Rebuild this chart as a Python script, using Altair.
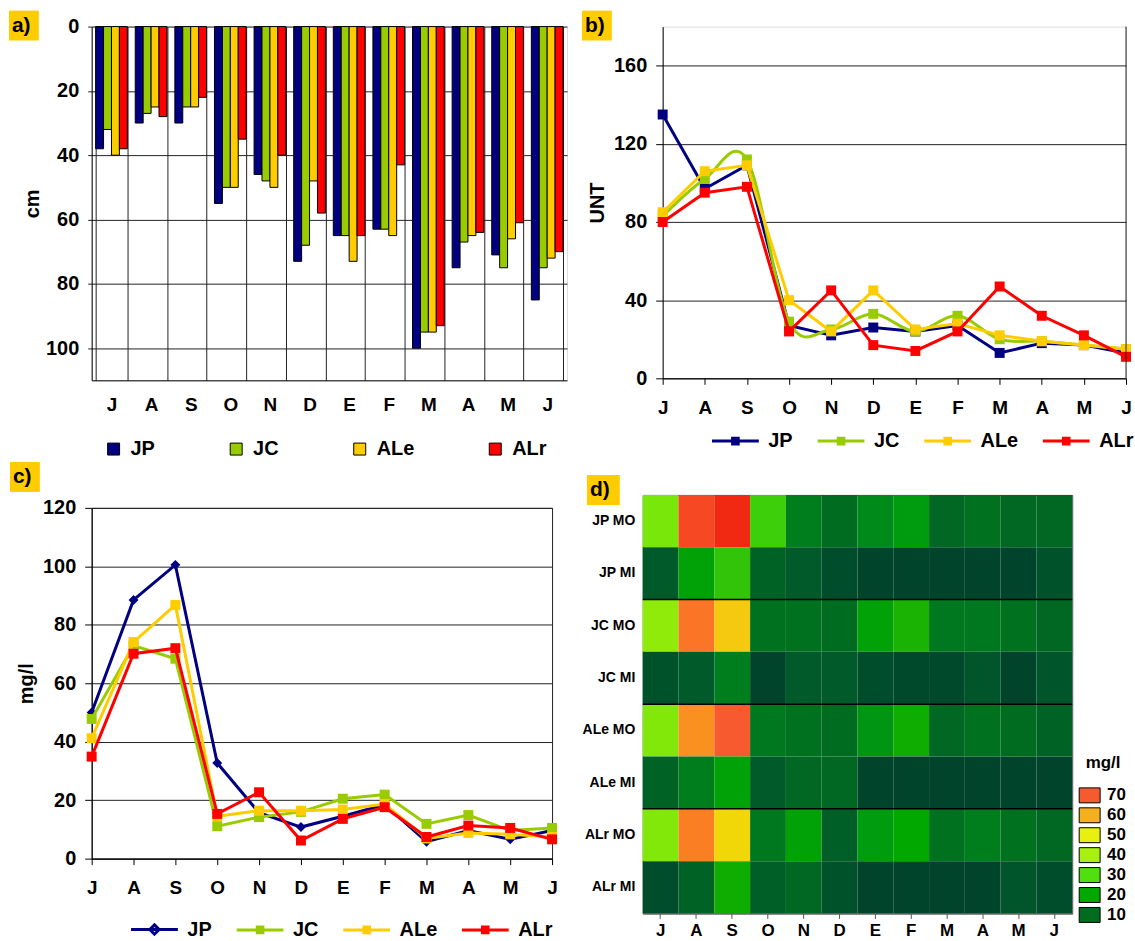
import altair as alt
import pandas as pd

FONT = "Liberation Sans"

# months of the sampling year (first letter is shown on the axes)
meses = ["Jul", "Ago", "Sep", "Oct", "Nov", "Dic", "Ene", "Feb", "Mar", "Abr", "May", "Jun"]
sitios = ["JP", "JC", "ALe", "ALr"]
colores = ["#000080", "#99cc00", "#ffcc00", "#ff0000"]

# a) transparency depth (cm)
prof_JP = [38, 30, 30, 55, 46, 73, 65, 63, 100, 75, 71, 85]
prof_JC = [32, 27, 25, 50, 48, 68, 65, 63, 95, 67, 75, 75]
prof_ALe = [40, 25, 25, 50, 50, 48, 73, 65, 95, 65, 66, 72]
prof_ALr = [38, 28, 22, 35, 40, 58, 65, 43, 93, 64, 61, 70]

# b) turbidity (UNT)
turb_JP = [135, 97, 109, 27, 22, 26, 24, 27, 13, 18, 17, 13]
turb_JC = [83, 102, 112, 29, 25, 33, 24, 32, 20, 19, 17, 15]
turb_ALe = [85, 106, 109, 40, 24, 45, 25, 28, 22, 19, 17, 15]
turb_ALr = [80, 95, 98, 24, 45, 17, 14, 24, 47, 32, 22, 11]

# c) suspended solids (mg/l)
sol_JP = [50, 88.5, 100.5, 32.7, 15.7, 10.8, 14.5, 18.5, 5.8, 9.6, 6.6, 9.6]
sol_JC = [47.8, 72.9, 68.4, 11.1, 14.2, 16, 20.5, 21.9, 11.9, 14.9, 9.6, 10.5]
sol_ALe = [41.2, 74.1, 86.8, 14.5, 16.4, 16.4, 16.8, 18.7, 6.9, 8.8, 8.3, 7.4]
sol_ALr = [34.9, 70.1, 72, 15.3, 22.7, 6.2, 13.6, 17.6, 7.4, 11.3, 10.5, 6.6]

# d) organic (MO) and inorganic (MI) suspended matter (mg/l)
filas = ["JP MO", "JP MI", "JC MO", "JC MI", "ALe MO", "ALe MI", "ALr MO", "ALr MI"]
jp_mo = [34, 74, 79, 27, 13, 10, 15, 18, 9, 11, 9, 9]
jp_mi = [6, 19, 25, 8, 6, 3, 1, 1, 1, 1, 1, 4]
jc_mo = [37, 67, 56, 11, 11, 10, 19, 22, 12, 12, 11, 9]
jc_mi = [4, 6, 13, 1, 6, 6, 3, 2, 2, 5, 1, 5]
ale_mo = [35, 64, 70, 12, 11, 10, 17, 21, 9, 11, 10, 8]
ale_mi = [8, 13, 19, 6, 9, 9, 1, 1, 1, 1, 1, 1]
alr_mo = [35, 66, 54, 12, 19, 7, 18, 20, 11, 13, 11, 9]
alr_mi = [3, 8, 21, 7, 9, 4, 1, 1, 1, 1, 5, 3]
cortes = ["JP MI", "JC MI", "ALe MI"]

escala_valores = [0, 10, 20, 30, 40, 50, 60, 70, 80]
escala_colores = ["#00402a", "#006c20", "#00a800", "#50e010", "#a8f010",
                  "#e8f010", "#f5b020", "#f85a30", "#f02010"]
leyenda_valores = [70, 60, 50, 40, 30, 20, 10]

INICIAL = "substring(datum.label, 0, 1)"


def largo(series, campo):
    rows = []
    for s, vals in zip(sitios, series):
        for m, v in zip(meses, vals):
            rows.append({"mes": m, "sitio": s, campo: v})
    return pd.DataFrame(rows)


def texto_eje(size=20):
    return dict(labelFont=FONT, labelFontSize=size, labelFontWeight="bold", labelColor="black",
                titleFont=FONT, titleFontSize=20, titleFontWeight="bold", titleColor="black")


def etiqueta(texto, x0, y0, w=30, h=30):
    base = alt.Chart(pd.DataFrame({"t": [texto]}))
    caja = base.mark_rect(color="#ffcc00").encode(
        x=alt.value(x0), x2=alt.value(x0 + w), y=alt.value(y0), y2=alt.value(y0 + h))
    txt = base.mark_text(font=FONT, fontSize=21, fontWeight="bold", color="black",
                         align="left", baseline="middle").encode(
        x=alt.value(x0 + 3), y=alt.value(y0 + h / 2), text="t:N")
    return [caja, txt]


def margen(x0, x1, y0, y1):
    # blank white strip that reserves room next to a panel
    return alt.Chart(pd.DataFrame({"t": [""]})).mark_rect(color="white").encode(
        x=alt.value(x0), x2=alt.value(x1), y=alt.value(y0), y2=alt.value(y1))


# ---------------- a) bars ----------------
df_a = largo([prof_JP, prof_JC, prof_ALe, prof_ALr], "cm")
barras = alt.Chart(df_a).mark_bar(stroke="black", strokeWidth=1).encode(
    x=alt.X("mes:N", sort=meses,
            scale=alt.Scale(paddingInner=0.2, paddingOuter=0.1),
            axis=alt.Axis(title=None, labelExpr=INICIAL, labelAngle=0, tickBand="extent",
                          grid=True, gridColor="#222", ticks=False, labelPadding=15,
                          domainColor="black", **texto_eje(19))),
    xOffset=alt.XOffset("sitio:N", sort=sitios),
    y=alt.Y("cm:Q", scale=alt.Scale(domain=[0, 110], reverse=True, nice=False),
            axis=alt.Axis(values=[0, 20, 40, 60, 80, 100], title="cm", grid=True, gridColor="#222",
                          tickSize=4, tickColor="#222", labelPadding=9, titlePadding=3,
                          domainColor="black", **texto_eje(20))),
    color=alt.Color("sitio:N", sort=sitios, scale=alt.Scale(domain=sitios, range=colores),
                    legend=alt.Legend(title=None, orient="none", legendX=12, legendY=414,
                                      direction="horizontal", columns=4, symbolType="square",
                                      symbolSize=144, symbolStrokeColor="black", symbolStrokeWidth=1,
                                      labelFont=FONT, labelFontSize=20, labelFontWeight="bold",
                                      labelColor="black", labelOffset=7, columnPadding=71, padding=0)),
)
panel_a = alt.layer(barras, *etiqueta("a)", -83, -16)).properties(width=477, height=355)


# ---------------- b) and c) lines ----------------
# legend glyphs: a line segment with the marker in its middle
CUAD = "M-4,0H4M-0.48,-0.48H0.48V0.48H-0.48Z"
ROMBO = "M-4,0H4M0,-0.8L0.8,0L0,0.8L-0.8,0Z"


def panel_lineas(series, campo, ymax, yvals, ytitulo, formas, figuras, suaves, leg_xy):
    df = largo(series, campo)
    x = alt.X("mes:N", sort=meses, scale=alt.Scale(type="point", padding=0),
              axis=alt.Axis(title=None, labelExpr=INICIAL, labelAngle=0, tickSize=6,
                            tickColor="black", domainColor="black", labelPadding=14, grid=False,
                            **texto_eje(19)))
    y = alt.Y(f"{campo}:Q", scale=alt.Scale(domain=[0, ymax], nice=False),
              axis=alt.Axis(values=yvals, title=ytitulo, grid=True, gridColor="#222",
                            tickSize=7, tickColor="black", domainColor="black",
                            labelPadding=9, titlePadding=6, **texto_eje(20)))
    capas = []
    for s, col, forma, suave in zip(sitios, colores, formas, suaves):
        sub = alt.Chart(df).transform_filter(alt.datum.sitio == s)
        capas.append(sub.mark_line(color=col, strokeWidth=3,
                                   interpolate="cardinal" if suave else "linear").encode(x=x, y=y))
        capas.append(sub.mark_point(shape=forma, filled=True, size=100, color=col,
                                    opacity=1).encode(x=x, y=y))
    leg = alt.Legend(title=None, orient="none", legendX=leg_xy[0], legendY=leg_xy[1],
                     direction="horizontal", columns=4, symbolSize=138, symbolStrokeWidth=3,
                     symbolOpacity=1, symbolFillColor="transparent",
                     labelFont=FONT, labelFontSize=20, labelFontWeight="bold", labelColor="black",
                     labelOffset=23, columnPadding=18, padding=0)
    guia = alt.Chart(df).mark_point(opacity=0, filled=False, size=1).encode(
        x=x, y=y,
        color=alt.Color("sitio:N", sort=sitios, scale=alt.Scale(domain=sitios, range=colores), legend=leg),
        shape=alt.Shape("sitio:N", sort=sitios, scale=alt.Scale(domain=sitios, range=figuras), legend=leg),
    )
    return capas, guia, x


capas_b, guia_b, x_b = panel_lineas(
    [turb_JP, turb_JC, turb_ALe, turb_ALr], "UNT", 180, [0, 40, 80, 120, 160], "UNT",
    ["square"] * 4, [CUAD] * 4, [False, True, False, False], (63, 406))
borde_b = alt.Chart(pd.DataFrame({"mes": ["Jun"]})).mark_rule(color="#222", strokeWidth=1).encode(x=x_b)
panel_b = alt.layer(*capas_b, borde_b, guia_b, *etiqueta("b)", -81, -16)).properties(width=465, height=353)

capas_c, guia_c, x_c = panel_lineas(
    [sol_JP, sol_JC, sol_ALe, sol_ALr], "mgl", 120, [0, 20, 40, 60, 80, 100, 120], "mg/l",
    ["diamond", "square", "square", "square"], [ROMBO, CUAD, CUAD, CUAD],
    [False, False, False, False], (53, 413))
panel_c = alt.layer(*capas_c, guia_c, margen(464, 483, 0, 1), *etiqueta("c)", -82, -46)).properties(
    width=462, height=352, view=alt.ViewBackground(stroke="#222", strokeWidth=1))


# ---------------- d) heatmap ----------------
rows = []
for f, vals in zip(filas, [jp_mo, jp_mi, jc_mo, jc_mi, ale_mo, ale_mi, alr_mo, alr_mi]):
    for m, v in zip(meses, vals):
        rows.append({"mes": m, "fila": f, "mgl": v})
df_d = pd.DataFrame(rows)

celdas = alt.Chart(df_d).mark_rect().encode(
    x=alt.X("mes:N", sort=meses, scale=alt.Scale(padding=0),
            axis=alt.Axis(title=None, labelExpr=INICIAL, labelAngle=0, tickSize=5, tickColor="#555",
                          domainColor="#555", labelPadding=4, **texto_eje(17))),
    y=alt.Y("fila:N", sort=filas, scale=alt.Scale(padding=0),
            axis=alt.Axis(title=None, ticks=False, domain=False, labelPadding=8, **texto_eje(14))),
    color=alt.Color("mgl:Q", scale=alt.Scale(domain=escala_valores, range=escala_colores),
                    legend=alt.Legend(type="symbol", values=leyenda_valores, title="mg/l",
                                      orient="none", legendX=440, legendY=261, direction="vertical",
                                      symbolType="M-1.4,-1H1.4V1H-1.4Z", symbolSize=225,
                                      symbolStrokeColor="black", symbolStrokeWidth=1, symbolOpacity=1,
                                      labelFont=FONT, labelFontSize=17, labelFontWeight="bold",
                                      labelColor="black", labelOffset=9, rowPadding=1,
                                      titleFont=FONT, titleFontSize=17, titleFontWeight="bold",
                                      titleColor="black", titleAnchor="middle", titlePadding=15,
                                      padding=0)),
)
separadores = alt.Chart(pd.DataFrame({"fila": cortes})).mark_rule(color="black", strokeWidth=1.5).encode(
    y=alt.Y("fila:N", sort=filas, bandPosition=1))
panel_d = alt.layer(celdas, separadores, margen(0, 1, -33, -32), *etiqueta("d)", -56, -20, w=33)).properties(
    width=431, height=420, view=alt.ViewBackground(stroke="#555", strokeWidth=1))


# 2x2 grid; each panel is placed from its own neighbours (left one and the one above)
chart = alt.concat(panel_a, panel_b, panel_c, panel_d, columns=2, align="none",
                   spacing={"row": 1, "column": 7}).resolve_scale(
    color="independent", shape="independent", x="independent", y="independent"
).resolve_legend(color="independent", shape="independent").properties(
    padding={"left": 8, "top": 8, "right": 0, "bottom": 0}
).configure_view(stroke=None).configure(font=FONT)

chart.save("out.html", embed_options={"renderer": "svg", "actions": False})
